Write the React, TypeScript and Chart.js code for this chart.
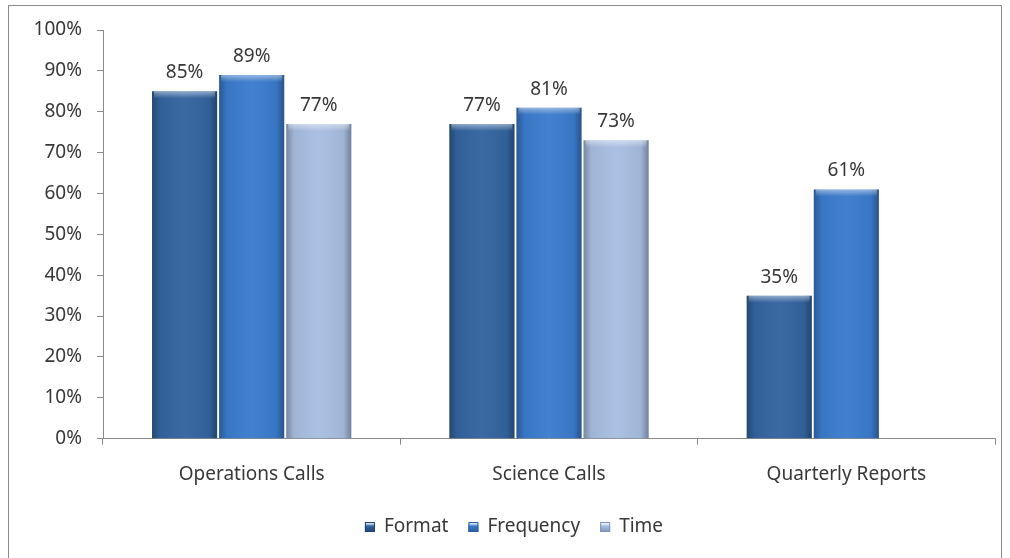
import React, { useEffect, useRef } from "react";
import { Chart, registerables } from "chart.js";

Chart.register(...registerables);

const categories = ["Operations Calls", "Science Calls", "Quarterly Reports"];
const seriesNames = ["Format", "Frequency", "Time"];
const formatValues = [85, 77, 35];
const frequencyValues = [89, 81, 61];
const timeValues: (number | null)[] = [77, 73, null];
const yTicks = [0, 10, 20, 30, 40, 50, 60, 70, 80, 90, 100];

const COLORS = ["#33649F", "#3B7BCD", "#A8BDE1"];
const EDGE = ["#1f426f", "#2a5c9e", "#7d93b8"];
const FONT = "'Noto Sans', sans-serif";
const FS = 19;
const TEXT = "#383838";

const bevelPlugin = {
  id: "bevel",
  afterDatasetsDraw(chart: any) {
    const ctx = chart.ctx;
    chart.data.datasets.forEach((ds: any, di: number) => {
      const meta = chart.getDatasetMeta(di);
      meta.data.forEach((bar: any, i: number) => {
        if (ds.data[i] == null) return;
        const { x, y, base, width } = bar.getProps(["x", "y", "base", "width"], true);
        const l = x - width / 2;
        const r = x + width / 2;
        const h = base - y;
        ctx.save();
        const g = ctx.createLinearGradient(l, 0, r, 0);
        g.addColorStop(0, "rgba(0,0,0,0.28)");
        g.addColorStop(0.12, "rgba(0,0,0,0.05)");
        g.addColorStop(0.5, "rgba(255,255,255,0.04)");
        g.addColorStop(0.88, "rgba(0,0,0,0.05)");
        g.addColorStop(1, "rgba(0,0,0,0.32)");
        ctx.fillStyle = g;
        ctx.fillRect(l, y, width, h);
        const tg = ctx.createLinearGradient(0, y, 0, y + 7);
        tg.addColorStop(0, "rgba(255,255,255,0.45)");
        tg.addColorStop(1, "rgba(255,255,255,0)");
        ctx.fillStyle = tg;
        ctx.fillRect(l + 2, y, width - 4, 7);
        ctx.restore();
      });
    });
  },
};

const labelPlugin = {
  id: "valueLabels",
  afterDatasetsDraw(chart: any) {
    const ctx = chart.ctx;
    ctx.save();
    ctx.font = `${FS}px ${FONT}`;
    ctx.fillStyle = TEXT;
    ctx.textAlign = "center";
    ctx.textBaseline = "alphabetic";
    chart.data.datasets.forEach((ds: any, di: number) => {
      const meta = chart.getDatasetMeta(di);
      meta.data.forEach((bar: any, i: number) => {
        const v = ds.data[i];
        if (v == null) return;
        ctx.fillText(`${v}%`, bar.x, bar.y - 13);
      });
    });
    ctx.restore();
  },
};

const legendPlugin = {
  id: "customLegend",
  afterDraw(chart: any) {
    const ctx = chart.ctx;
    ctx.save();
    ctx.font = `${FS}px ${FONT}`;
    const box = 10;
    const gapBoxText = 9;
    const gapItems = 20;
    const widths = seriesNames.map((n) => box + gapBoxText + ctx.measureText(n).width);
    const total = widths.reduce((a, b) => a + b, 0) + gapItems * (seriesNames.length - 1);
    let x = 514 - total / 2;
    const cy = 527;
    seriesNames.forEach((n, i) => {
      const g = ctx.createLinearGradient(0, cy - box / 2, 0, cy + box / 2);
      g.addColorStop(0, "rgba(255,255,255,0.35)");
      g.addColorStop(0.4, COLORS[i]);
      g.addColorStop(1, EDGE[i]);
      ctx.fillStyle = g;
      ctx.fillRect(x, cy - box / 2, box, box);
      ctx.strokeStyle = EDGE[i];
      ctx.lineWidth = 1;
      ctx.strokeRect(x + 0.5, cy - box / 2 + 0.5, box - 1, box - 1);
      ctx.fillStyle = TEXT;
      ctx.textAlign = "left";
      ctx.textBaseline = "middle";
      ctx.fillText(n, x + box + gapBoxText, cy);
      x += widths[i] + gapItems;
    });
    ctx.restore();
  },
};

const framePlugin = {
  id: "frame",
  beforeDraw(chart: any) {
    const ctx = chart.ctx;
    ctx.save();
    ctx.fillStyle = "#ffffff";
    ctx.fillRect(0, 0, chart.width, chart.height);
    ctx.strokeStyle = "#8a8a8a";
    ctx.lineWidth = 1;
    ctx.strokeRect(8.5, 5.5, 993, 560);
    ctx.restore();
  },
};

export default function App() {
  const ref = useRef<HTMLCanvasElement | null>(null);
  useEffect(() => {
    if (!ref.current) return;
    const chart = new Chart(ref.current, {
      type: "bar",
      data: {
        labels: categories,
        datasets: [
          { label: seriesNames[0], data: formatValues, backgroundColor: COLORS[0] },
          { label: seriesNames[1], data: frequencyValues, backgroundColor: COLORS[1] },
          { label: seriesNames[2], data: timeValues, backgroundColor: COLORS[2] },
        ],
      },
      options: {
        responsive: false,
        animation: false,
        datasets: { bar: { categoryPercentage: 0.677, barPercentage: 0.97, borderWidth: 0 } },
        layout: { padding: { left: 0, right: 15, top: 30, bottom: 54.5 } },
        plugins: {
          legend: { display: false },
          tooltip: { enabled: false },
        },
        scales: {
          x: {
            grid: { display: true, drawOnChartArea: false, offset: true, tickLength: 6, color: "#8a8a8a" },
            border: { color: "#8a8a8a" },
            ticks: { color: TEXT, padding: 18, font: { family: FONT, size: FS } },
          },
          y: {
            min: 0,
            max: 100,
            afterBuildTicks: (s: any) => {
              s.ticks = yTicks.map((v) => ({ value: v }));
            },
            grid: { display: true, drawOnChartArea: false, tickLength: 6, color: "#8a8a8a" },
            border: { color: "#8a8a8a" },
            afterFit: (s: any) => {
              s.width = 103;
            },
            ticks: {
              color: TEXT,
              padding: 15,
              font: { family: FONT, size: FS },
              callback: (v: any) => `${v}%`,
            },
          },
        },
      },
      plugins: [framePlugin, bevelPlugin, labelPlugin, legendPlugin],
    });
    return () => chart.destroy();
  }, []);
  return (
    <div style={{ position: "fixed", left: 0, top: 0, width: 1010, height: 558 }}>
      <canvas ref={ref} width={1010} height={558} style={{ width: 1010, height: 558 }} />
    </div>
  );
}
